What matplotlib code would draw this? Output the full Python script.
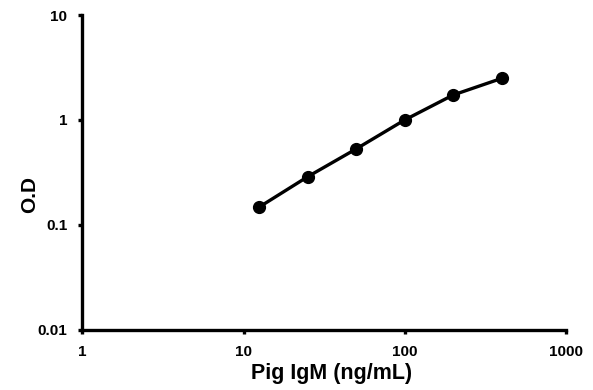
import matplotlib.pyplot as plt

konsantrasyon = [12.5, 25, 50, 100, 200, 400]
od_degerleri = [0.148, 0.288, 0.53, 1.0, 1.73, 2.49]

x_ticks = [1, 10, 100, 1000]
x_tick_labels = ["1", "10", "100", "1000"]
y_ticks = [0.01, 0.1, 1, 10]
y_tick_labels = ["0.01", "0.1", "1", "10"]

plt.rcParams['font.family'] = ['Liberation Sans', 'DejaVu Sans']
plt.rcParams['font.weight'] = 'bold'

fig = plt.figure(figsize=(5.93, 3.9), dpi=100)
ax = fig.add_axes([0.139, 0.154, 0.815, 0.8075])

ax.plot(konsantrasyon, od_degerleri, color="black", linewidth=2.4,
        marker="o", markersize=8.5, solid_capstyle="round")

ax.set_xscale("log")
ax.set_yscale("log")
ax.set_xlim(1, 1000)
ax.set_ylim(0.01, 10)
ax.set_xticks(x_ticks)
ax.set_xticklabels(x_tick_labels)
ax.set_yticks(y_ticks)
ax.set_yticklabels(y_tick_labels)
ax.minorticks_off()

for s in ["top", "right"]:
    ax.spines[s].set_visible(False)
for s in ["left", "bottom"]:
    ax.spines[s].set_linewidth(2.4)

ax.tick_params(axis="both", which="major", length=3, width=2.4, labelsize=11, pad=8)

ax.set_xlabel("Pig IgM (ng/mL)", fontsize=15.5, fontweight="bold", va="center")
ax.set_ylabel("O.D", fontsize=15, fontweight="bold", va="center", ha="center")
ax.xaxis.set_label_coords(0.516, -0.137)
ax.yaxis.set_label_coords(-0.109, 0.43)

fig.savefig("out.png", dpi=100)
